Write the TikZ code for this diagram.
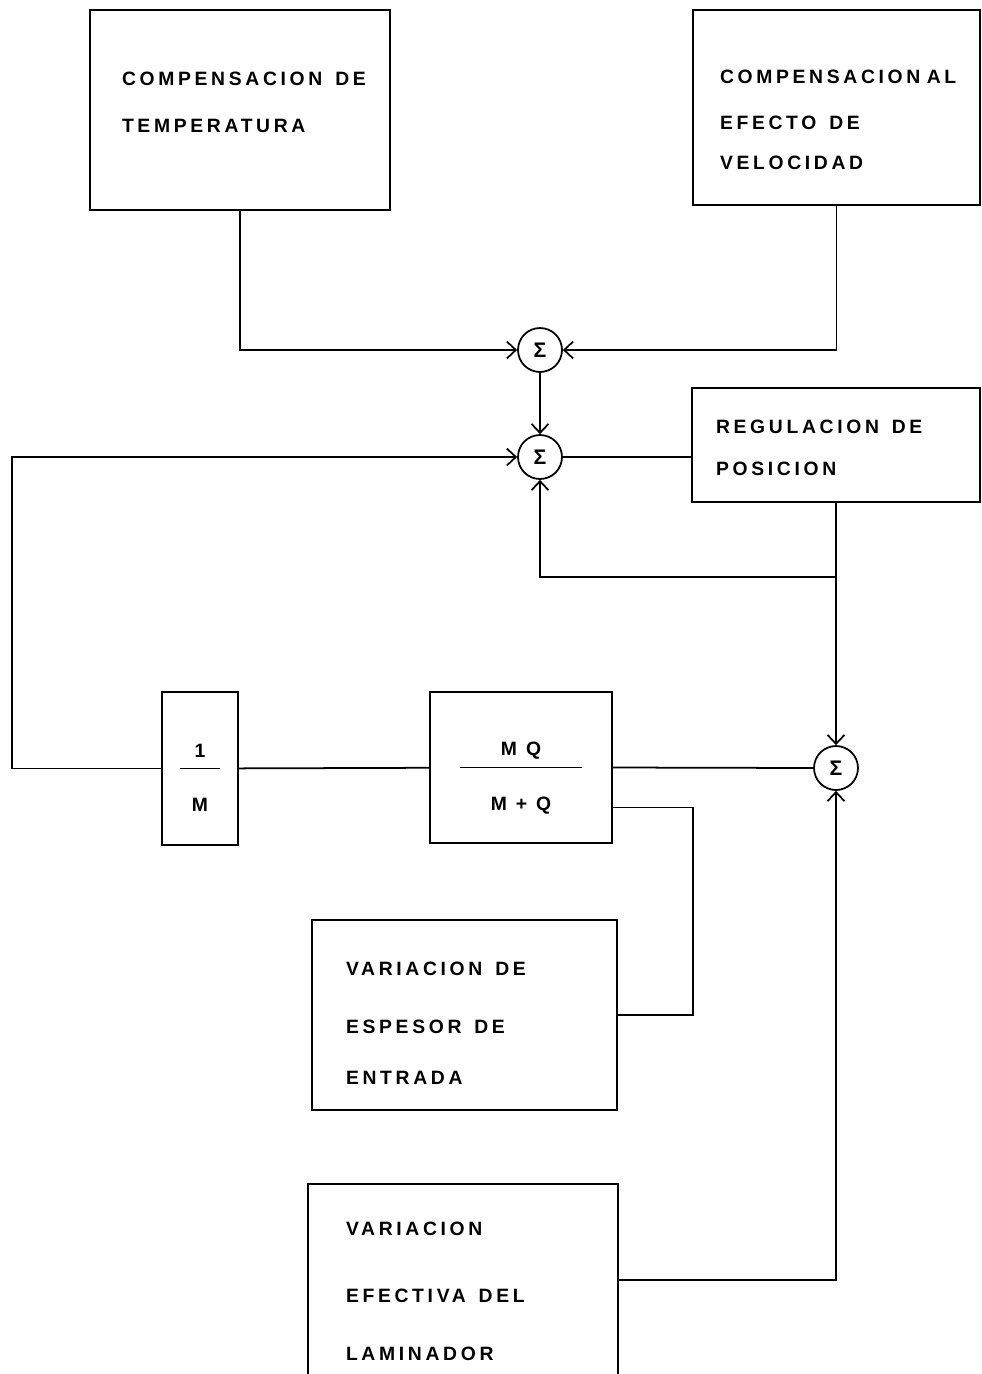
\documentclass[tikz,border=0pt]{standalone}
\usepackage{fontspec}
\setmainfont{Liberation Sans}[LetterSpace=19]
\usetikzlibrary{arrows.meta}

\begin{document}
\begin{tikzpicture}[
  x=0.02cm, y=-0.02cm,
  font=\bfseries\fontsize{11}{13}\selectfont,
  blk/.style={draw, line width=1pt, align=left, inner sep=0pt},
  frac/.style={draw, line width=1pt, align=center, inner sep=0pt},
  sum/.style={draw, circle, line width=1pt, minimum size=0.88cm, inner sep=0pt,
              font=\bfseries\fontsize{12}{12}\selectfont},
  flow/.style={-{Straight Barb[length=1.8mm,width=3.4mm]}, line width=1pt},
  wire/.style={line width=1pt}
]
  \useasboundingbox (0,0) rectangle (982,1374);
  % blocks
  \node[blk, minimum width=6cm, minimum height=4cm, text width=4.72cm] (temp) at (240,110)
    {COMPENSACION~ DE\\[14pt]TEMPERATURA\\[-4pt]\mbox{}};
  \node[blk, minimum width=5.74cm, minimum height=3.9cm, text width=4.66cm] (vel) at (836.5,107.5)
    {\mbox{}\\[9pt]COMPENSACION~AL\\[13pt]EFECTO~ DE\\[10pt]VELOCIDAD};
  \node[blk, minimum width=5.76cm, minimum height=2.28cm, text width=4.8cm] (reg) at (836,445)
    {\mbox{}\\[-2pt]REGULACION~ DE\\[11pt]POSICION};
  \node[frac, minimum width=1.52cm, minimum height=3.06cm] (invm) at (200,768.5)
    {\mbox{}\\[5pt]1\\[-6pt]\rule{0.8cm}{0.8pt}\\[11pt]M};
  \node[frac, minimum width=3.64cm, minimum height=3.02cm] (mq) at (521,767.5)
    {\mbox{}\\[7pt]M Q\\[-6pt]\rule{2.44cm}{0.8pt}\\[11pt]M + Q};
  \node[blk, minimum width=6.1cm, minimum height=3.8cm, text width=4.74cm] (esp) at (464.5,1015)
    {\mbox{}\\[4pt]VARIACION~ DE\\[20pt]ESPESOR~ DE\\[16pt]ENTRADA};
  \node[blk, minimum width=6.2cm, minimum height=3.84cm, text width=4.68cm] (lam) at (463,1280)
    {\mbox{}\\[7.5pt]VARIACION\\[25pt]EFECTIVA~ DEL\\[20pt]LAMINADOR};
  % summing points
  \node[sum] (s1) at (540,350) {Σ};
  \node[sum] (s2) at (540,457) {Σ};
  \node[sum] (s3) at (836,768) {Σ};
  \coordinate (brk) at (836,577);
  \coordinate (fbk) at (12,600);
  % connections
  \draw[flow] (temp.south) |- (s1.west);
  \draw[flow] (vel.south) |- (s1.east);
  \draw[flow] (s1) -- (s2);
  \draw[wire] (s2.east) -- (s2.east -| reg.west);
  \draw[wire] (reg.south) -- (brk);
  \draw[flow] (brk) -| (s2.south);
  \draw[flow] (brk) -- (s3.north);
  \draw[flow] (invm.west) -- (invm.west -| fbk) |- (s2.west);
  \draw[wire] (invm) -- (mq);
  \draw[wire] (mq.east) -- (s3.west);
  \draw[wire] (esp.east) -- ++(75,0) |- ([yshift=-0.8cm]mq.east);
  \draw[flow] (lam.east) -| (s3.south);
\end{tikzpicture}
\end{document}
